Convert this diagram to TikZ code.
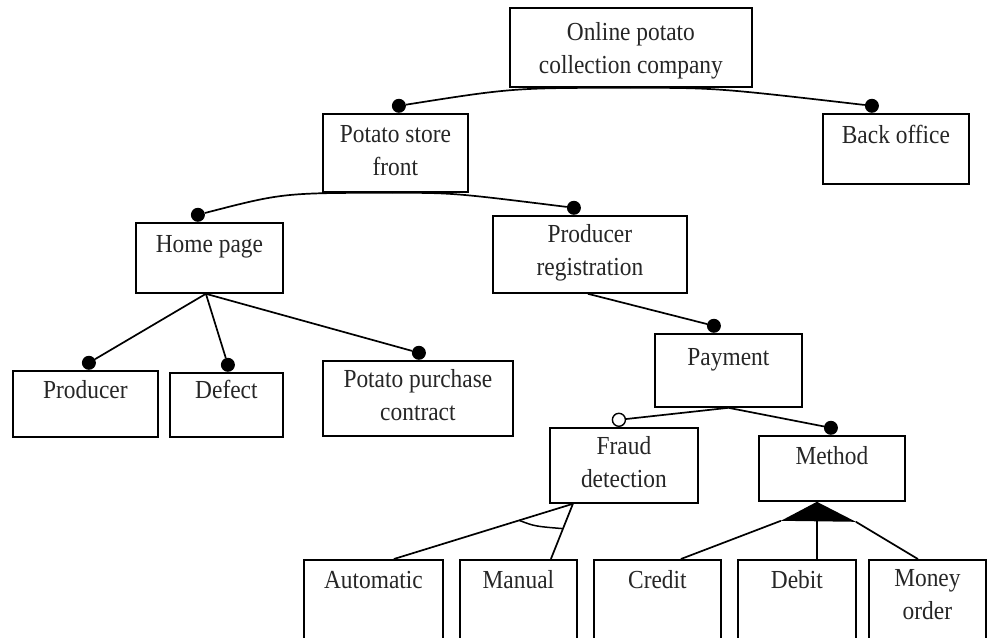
\documentclass[tikz,border=0pt]{standalone}
\usepackage{fontspec}
\setmainfont{Liberation Serif}[FakeStretch=0.9]
\usetikzlibrary{calc}

\tikzset{
  featframe/.style={draw, line width=1.8pt, inner sep=0pt, anchor=north west, fill=white},
  featlabel/.style={inner sep=0pt, anchor=base, align=center, text=black!85,
                    font=\fontsize{26}{33}\selectfont},
  link/.style={line width=1.7pt},
  mandatory/.style={circle, fill=black, inner sep=0pt, minimum size=14pt, anchor=south},
  optional/.style={circle, draw, line width=1.4pt, fill=white, inner sep=0pt,
                   minimum size=13pt, anchor=south},
}

% #1 name, #2 left, #3 top, #4 right, #5 bottom,
% #6 distance from the top edge to the baseline of the last text line, #7 text
\newcommand\featbox[7]{%
  \node[featframe, minimum width={(#4)-(#2)}, minimum height={(#5)-(#3)}] (#1) at (#2,#3) {};
  \node[featlabel] (#1-t) at ([yshift=-#6pt]#1.north) {#7};}

\begin{document}
\begin{tikzpicture}[x=1pt, y=-1pt]
\clip (0,0) rectangle (987,637);
\fill[white] (0,0) rectangle (987,637);

% feature boxes
\featbox{root}{509}{7}{751}{86}{66}{Online potato\\collection company}
\featbox{psf}{322}{113}{467}{191}{62}{Potato store\\front}
\featbox{back}{822}{113}{968}{183}{30}{Back office}
\featbox{home}{135}{222}{282}{292}{30}{Home page}
\featbox{prodreg}{492}{215}{686}{292}{60}{Producer\\registration}
\featbox{producer}{12}{370}{157}{436}{28}{Producer}
\featbox{defect}{169}{372}{282}{436}{26}{Defect}
\featbox{ppc}{322}{360}{512}{435}{60}{Potato purchase\\contract}
\featbox{payment}{654}{333}{801}{406}{32}{Payment}
\featbox{fraud}{549}{427}{697}{502}{60}{Fraud\\detection}
\featbox{method}{758}{435}{904}{500}{29}{Method}
\featbox{auto}{303}{559}{442}{660}{29}{Automatic}
\featbox{manual}{459}{559}{576}{660}{29}{Manual}
\featbox{credit}{593}{559}{720}{660}{29}{Credit}
\featbox{debit}{737}{559}{855}{660}{29}{Debit}
\featbox{money}{868}{559}{985}{660}{60}{Money\\order}

% mandatory / optional markers on the child features
\node[mandatory] (psf-d) at ([xshift=3.5pt]psf.north) {};
\node[mandatory] (back-d) at ([xshift=-24pt]back.north) {};
\node[mandatory] (home-d) at ([xshift=-11.5pt]home.north) {};
\node[mandatory] (prodreg-d) at ([xshift=-16pt]prodreg.north) {};
\node[mandatory] (producer-d) at ([xshift=3.5pt]producer.north) {};
\node[mandatory] (defect-d) at ([xshift=1.5pt]defect.north) {};
\node[mandatory] (ppc-d) at ([xshift=1pt]ppc.north) {};
\node[mandatory] (payment-d) at ([xshift=-14.5pt]payment.north) {};
\node[optional] (fraud-d) at ([xshift=-5pt]fraud.north) {};
\node[mandatory] (method-d) at ([xshift=-1pt]method.north) {};

% parent-child links
\draw[link] (root.south) .. controls +(-118,0) .. (psf-d);
\draw[link] (root.south) .. controls +(85,0) .. (back-d);
\draw[link] ([xshift=-2.5pt]psf.south) .. controls +(-110,0) .. (home-d);
\draw[link] ([xshift=-2.5pt]psf.south) .. controls +(60,0) .. (prodreg-d);
\draw[link] ([xshift=-3.5pt]home.south) -- (producer-d);
\draw[link] ([xshift=-3.5pt]home.south) -- (defect-d);
\draw[link] ([xshift=-3.5pt]home.south) -- (ppc-d);
\draw[link] ([xshift=-2pt]prodreg.south) -- (payment-d);
\draw[link] (payment.south) -- (fraud-d);
\draw[link] (payment.south) -- (method-d);

% alternative group under fraud detection
\coordinate (fr-apex) at ([xshift=-51pt]fraud.south);
\coordinate (fr-a) at ([xshift=20.5pt]auto.north);
\coordinate (fr-m) at ([xshift=32.5pt]manual.north);
\draw[link] (fr-apex) -- (fr-a);
\draw[link] (fr-apex) -- (fr-m);
\coordinate (fr-arc-l) at ($(fr-apex)!0.3!(fr-a)$);
\coordinate (fr-arc-r) at ($(fr-apex)!0.45!(fr-m)$);
\draw[line width=1.5pt] (fr-arc-l) .. controls ($(fr-arc-l)!0.35!(fr-arc-r)+(0,3)$) .. (fr-arc-r);

% or group under method
\coordinate (me-apex) at ([xshift=-15pt]method.south);
\coordinate (me-l) at ($(me-apex)+(-36,19)$);
\coordinate (me-r) at ($(me-apex)+(39,20)$);
\fill (me-apex) -- (me-l) -- (me-r) -- cycle;
\draw[link] (me-l) -- ([xshift=23.5pt]credit.north);
\draw[link] (me-apex) -- ([xshift=20pt]debit.north);
\draw[link] (me-r) -- ([xshift=-9.5pt]money.north);
\end{tikzpicture}
\end{document}
